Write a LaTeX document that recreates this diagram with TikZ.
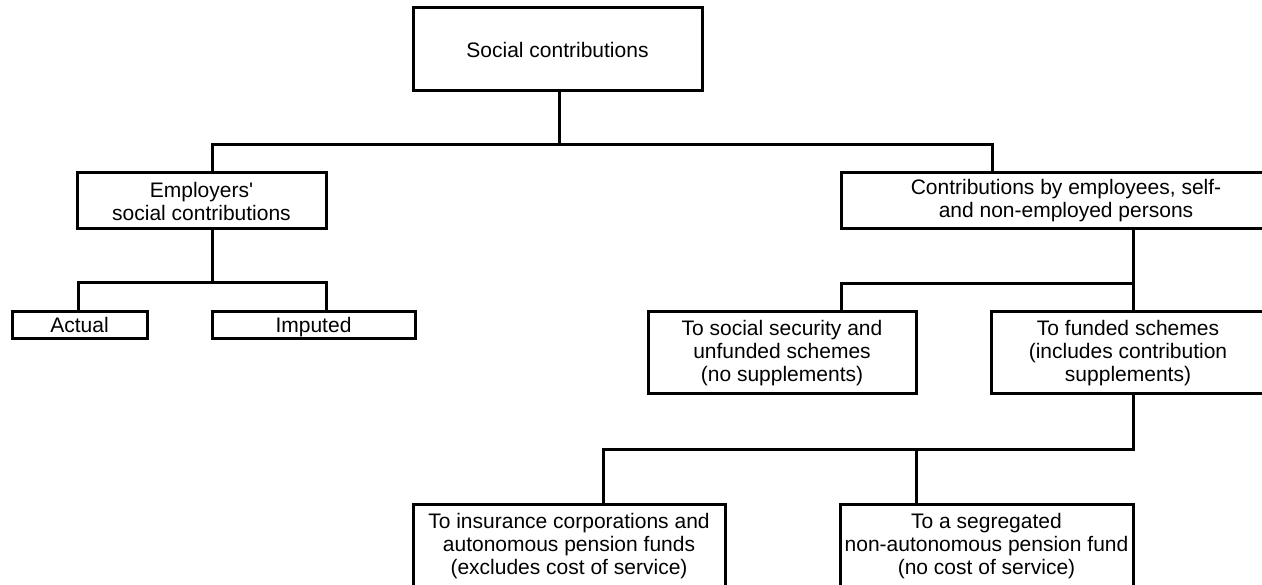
\documentclass[tikz,border=0pt]{standalone}
\usepackage{fontspec}
\setmainfont{Liberation Sans}
\tikzset{
  box/.style={draw=black, line width=3pt, inner sep=0pt, align=center,
    font=\fontsize{21pt}{23pt}\selectfont},
  onebox/.style={box, text height=15pt, text depth=0pt},
  conn/.style={draw=black, line width=3pt},
}
\begin{document}
\begin{tikzpicture}[x=1pt,y=-1pt]
\useasboundingbox (0,0) rectangle (1262,585);
\clip (0,0) rectangle (1262,585);
\fill[white] (0,0) rectangle (1262,585);

% boxes
\node[box, minimum width=289pt, minimum height=83pt] (root) at (557.5,49.5) {Social contributions};
\node[box, minimum width=249pt, minimum height=56pt] (emp) at (201.5,201) {Employers\textquotesingle\\social contributions};
\node[box, minimum width=450pt, minimum height=56pt] (contr) at (1066,201) {Contributions by employees, self-\\and non-employed persons};
\node[onebox, minimum width=135pt, minimum height=27pt] (act) at (79.5,325.5) {Actual};
\node[onebox, minimum width=203pt, minimum height=27pt] (imp) at (313.5,325.5) {Imputed};
\node[box, minimum width=268pt, minimum height=82pt] (soc) at (782,353) {To social security and\\unfunded schemes\\(no supplements)};
\node[box, minimum width=274pt, minimum height=82pt] (fund) at (1128,353) {To funded schemes\\(includes contribution\\supplements)};
\node[box, minimum width=312pt, minimum height=85pt] (ins) at (569,546.5) {To insurance corporations and\\autonomous pension funds\\(excludes cost of service)};
\node[box, minimum width=293pt, minimum height=85pt] (seg) at (986.5,546.5) {To a segregated\\non-autonomous pension fund\\(no cost of service)};

% junction coordinates
\coordinate (j0) at (559,145);
\coordinate (j1) at (212,145);
\coordinate (j2) at (992,145);
\coordinate (j3) at (78,283);
\coordinate (j4) at (326,283);
\coordinate (j5) at (841,284);
\coordinate (j6) at (1133,284);
\coordinate (j7) at (603,449);
\coordinate (j8) at (1133,449);
\coordinate (j9) at (916,449);

% connectors
\draw[conn] (root.south -| j0) -- (j0);
\draw[conn] (emp.north -| j1) |- (j2) -- (contr.north -| j2);
\draw[conn] (emp.south -| j1) -- (j1 |- j3);
\draw[conn] (act.north -| j3) |- (j4) -- (imp.north -| j4);
\draw[conn] (contr.south -| j6) -- (fund.north -| j6);
\draw[conn] (soc.north -| j5) |- (j6);
\draw[conn] (ins.north -| j7) |- (j8) -- (fund.south -| j8);
\draw[conn] (seg.north -| j9) -- (j9);
\end{tikzpicture}
\end{document}
